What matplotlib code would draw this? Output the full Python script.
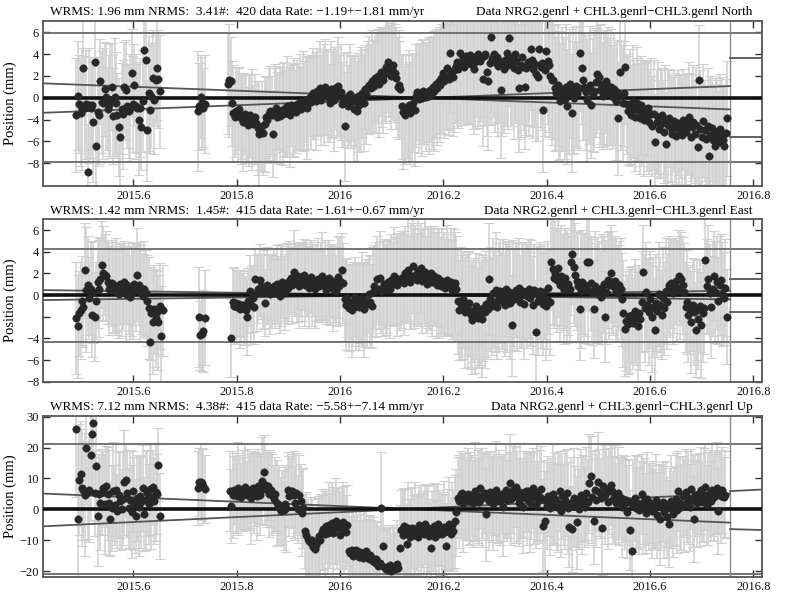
import matplotlib
matplotlib.use("Agg")
import matplotlib.pyplot as plt
import numpy as np

plt.rcParams["font.family"] = ["Liberation Serif", "DejaVu Serif"]

DAYS_PER_YEAR = 365.25

# daily solutions come in three blocks: (first epoch, values)
# ---------------- North ----------------
NORTH_START = [2015.490, 2015.725, 2015.783]
NORTH_A = [
    -1.6, 0.2, -0.6, -1.4, -1.0, 2.7, -0.9, -0.6, -6.8, -0.7,
    -0.9, -0.7, -2.2, 3.3, -4.4, -1.3, -1.6, 1.5, -0.4, -0.5,
    0.8, 0.1, -1.0, -0.7, -0.3, 1.0, -1.7, 0.1, -0.5, -1.6,
    -2.7, -3.6, -1.0, -1.5, 1.0, 0.7, -0.8, -1.2, -0.9, 2.3,
    -0.6, 1.2, -0.8, -0.9, -2.0, -0.9, -2.7, -0.3, 4.4, 3.5,
    -3.0, 0.4, -1.1, 0.2, 1.8, -0.2, 1.6, 2.7, 1.7, 0.6,
]
NORTH_B = [-1.2, -0.8, 0.1, -0.5, -0.9, -0.6]
NORTH_C = [
    1.3, 1.6, 1.5, -0.5, -1.4, -1.8, -1.2, -1.6, -1.0, -1.9,
    -1.7, -2.2, -1.5, -1.9, -2.5, -2.1, -1.6, -2.0, -2.4, -1.8,
    -2.3, -2.8, -3.3, -3.1, -2.6, -3.2, -2.4, -1.8, -2.0, -1.5,
    -1.2, -1.6, -3.3, -1.4, -0.9, -1.8, -1.3, -1.7, -1.1, -1.5,
    -1.0, -1.4, -0.8, -1.2, -1.6, -0.7, -1.1, -0.9, -1.3, -0.6,
    -0.8, -0.4, -1.0, -0.3, -0.7, -0.2, -0.9, -0.5, 0.1, -0.4,
    0.4, 0.0, -0.3, 0.6, 0.2, 0.9, -0.2, 0.5, 0.3, 1.0,
    0.6, 0.1, -0.5, 0.8, 0.3, -0.2, 0.9, 0.4, 1.1, 0.2,
    0.5, -0.6, -0.2, -2.6, 0.1, -0.8, 0.3, -0.4, 0.0, -1.0,
    -0.3, -1.2, 0.2, -0.7, -0.1, 0.4, -0.5, 0.8, 0.3, 1.0,
    1.2, 0.9, 1.5, 1.1, 1.8, 1.4, 2.0, 1.3, 2.4, 1.7,
    1.6, 2.2, 2.8, 3.3, 2.5, 2.0, 2.6, 3.0, 2.3, 1.8,
    1.0, 1.2, 0.8, -0.8, -1.3, -1.6, -1.0, -1.2, -0.7, -1.4,
    -0.9, -0.5, -1.1, 0.2, 0.5, -0.1, 0.4, 0.0, 0.6, 0.3,
    0.1, 0.5, 0.2, 0.7, 0.4, 1.0, 0.6, 1.3, 0.9, 1.5,
    1.2, 1.8, 2.3, 1.5, 2.0, 2.7, 1.7, 4.1, 2.2, 1.9,
    2.5, 2.9, 3.3, 2.6, 4.1, 3.0, 3.6, 2.8, 3.8, 3.2,
    3.5, 3.9, 3.1, 3.7, 2.6, 3.3, 3.8, 4.0, 3.4, 3.6,
    1.7, 3.8, 4.0, 2.4, 1.5, 3.2, 5.6, 3.6, 4.0, 3.3,
    3.7, 2.9, 3.4, 0.7, 3.1, 2.6, 3.5, 4.1, 3.0, 5.5,
    3.6, 3.2, 2.7, 4.0, 3.4, 2.5, 0.9, 3.0, 3.7, 2.8,
    1.0, 2.7, 3.3, 2.9, 4.5, 3.5, 2.6, 3.1, 2.2, 1.9,
    4.5, 2.8, 3.2, -1.1, 2.5, 4.3, 3.4, 3.0, 2.0, 1.6,
    1.6, 0.9, 0.4, 1.2, 0.2, -0.3, 0.8, 0.5, -0.1, 1.0,
    -0.8, 0.4, 1.3, -1.4, 0.7, 0.0, 1.1, 0.3, 0.9, 4.1,
    2.7, 1.6, 1.0, 0.5, -0.2, 0.8, 1.2, -0.7, 0.3, 0.6,
    1.4, 2.2, 1.9, 0.7, 1.3, 0.2, 0.9, 1.5, 0.4, 1.1,
    0.6, 1.0, 0.1, 0.8, -0.3, 0.5, -1.9, 2.4, 0.2, -0.5,
    0.4, 2.8, -0.6, -1.2, -0.8, -1.6, -0.3, -1.0, -1.8, -0.5,
    -1.1, -1.9, -0.7, -1.4, -2.0, -1.2, -1.7, -0.9, -2.2, -1.5,
    -2.6, -1.5, -4.1, -2.2, -1.8, -2.9, -2.4, -1.6, -3.1, -2.0,
    -4.2, -2.5, -1.9, -2.8, -3.3, -2.1, -2.7, -3.5, -2.3, -3.0,
    -2.6, -3.4, -2.0, -2.9, -3.1, -2.4, -1.8, -3.6, -2.7, -2.2,
    -3.3, -2.5, -4.5, 1.6, -2.9, -3.6, -2.1, -3.0, -3.8, -2.6,
    -5.3, -3.4, -2.8, -3.9, -4.4, -3.1, -3.7, -4.1, -2.9, -3.5,
    -3.9, -4.4, -3.2, -1.9,
]
NORTH_SIG_A = [
    5.2, 5.0, 4.5, 4.9, 5.6, 4.3, 4.7, 5.0, 4.4, 5.3,
    4.6, 4.1, 5.5, 4.8, 4.2, 5.0, 4.5, 3.9, 4.7, 5.1,
    4.3, 4.9, 3.8, 4.6, 5.2, 4.0, 4.4, 5.4, 4.7, 3.9,
    4.5, 4.8, 4.2, 5.0, 4.1, 4.6, 3.8, 4.3, 4.9, 4.0,
    4.4, 3.7, 4.8, 4.2, 5.1, 4.5, 3.9, 4.7, 5.5, 4.1,
    4.6, 5.3, 4.0, 4.8, 4.4, 5.0, 4.2, 4.7, 4.5, 5.2,
]
NORTH_SIG_B = [5.5, 4.0, 3.8, 4.2, 3.6, 4.5]
NORTH_SIG_C = [
    4.6, 5.2, 4.1, 3.9, 4.4, 3.6, 4.0, 4.3, 3.8, 4.2,
    3.9, 4.5, 3.7, 4.1, 3.5, 4.2, 3.8, 4.6, 3.6, 4.0,
    3.8, 4.3, 4.8, 3.5, 4.1, 3.9, 4.4, 3.7, 4.0, 4.2,
    4.1, 3.6, 4.0, 4.5, 3.8, 4.2, 3.5, 4.4, 3.9, 4.7,
    4.3, 3.9, 4.6, 4.0, 4.8, 3.7, 4.2, 4.5, 3.8, 4.1,
    4.0, 4.4, 3.8, 4.6, 4.1, 3.9, 4.7, 4.2, 3.6, 4.3,
    4.2, 3.8, 4.5, 4.0, 3.7, 4.3, 4.1, 3.9, 4.6, 4.4,
    3.9, 4.2, 3.6, 4.4, 4.0, 4.7, 3.8, 4.1, 4.5, 3.7,
    4.4, 3.9, 4.3, 5.0, 4.1, 3.8, 4.6, 4.2, 3.9, 4.8,
    4.1, 4.6, 3.9, 4.3, 4.8, 4.0, 4.4, 3.7, 4.5, 4.2,
    4.5, 4.0, 4.7, 4.2, 3.9, 4.6, 4.3, 4.9, 4.1, 4.4,
    4.8, 4.3, 5.1, 4.6, 4.2, 4.9, 4.4, 5.0, 4.5, 4.7,
    4.6, 5.0, 4.4, 4.8, 5.2, 4.5, 4.9, 4.3, 5.1, 4.7,
    4.9, 4.5, 5.2, 4.7, 4.4, 5.0, 4.6, 5.3, 4.8, 4.5,
    5.0, 4.6, 5.4, 4.8, 5.1, 4.7, 5.5, 4.9, 5.2, 4.8,
    5.3, 5.0, 5.6, 5.2, 4.9, 5.7, 5.1, 5.5, 5.0, 5.4,
    5.6, 5.2, 5.9, 5.4, 6.1, 5.5, 5.8, 5.3, 6.0, 5.6,
    5.8, 6.3, 5.5, 6.6, 5.9, 6.2, 5.6, 6.8, 6.0, 5.7,
    6.1, 5.6, 6.5, 5.9, 6.3, 5.7, 6.9, 6.0, 5.8, 6.4,
    5.9, 6.4, 5.7, 6.2, 6.6, 5.8, 6.1, 6.7, 5.9, 6.3,
    6.2, 5.8, 6.5, 6.0, 5.7, 6.3, 5.9, 6.6, 6.1, 5.8,
    5.7, 6.1, 5.9, 6.4, 5.6, 6.0, 6.3, 5.8, 6.2, 5.9,
    5.9, 5.5, 6.2, 5.7, 6.0, 5.4, 5.8, 6.1, 5.6, 5.9,
    5.4, 5.8, 5.2, 5.6, 5.9, 5.3, 5.7, 5.1, 5.5, 5.8,
    5.3, 5.6, 5.0, 5.4, 5.8, 5.2, 5.5, 4.9, 5.7, 5.3,
    5.1, 5.5, 4.9, 5.3, 5.6, 5.0, 5.4, 4.8, 5.2, 5.6,
    5.0, 5.4, 4.8, 5.2, 5.5, 4.9, 5.3, 4.7, 5.1, 5.4,
    4.9, 5.3, 4.7, 5.1, 5.4, 4.8, 5.2, 4.6, 5.0, 5.3,
    4.8, 5.2, 4.6, 5.0, 5.3, 4.7, 5.1, 4.5, 4.9, 5.2,
    4.7, 5.1, 4.5, 4.9, 5.2, 4.6, 5.0, 4.4, 4.8, 5.1,
    4.6, 5.0, 4.4, 4.8, 5.1, 4.5, 4.9, 4.3, 4.7, 5.0,
    4.7, 5.1, 4.5, 4.9, 5.2, 4.6, 5.0, 4.4, 4.8, 5.1,
    4.8, 5.2, 4.6, 5.0, 5.3, 4.7, 5.1, 4.5, 4.9, 5.2,
    4.9, 5.3, 4.7, 5.1, 5.4, 4.8, 5.2, 4.6, 5.0, 5.3,
    5.0, 5.4, 4.8, 5.2, 5.5, 4.9, 5.3, 4.7, 5.1, 5.4,
    5.1, 5.5, 4.9, 5.3,
]

# ---------------- East ----------------
EAST_START = [2015.490, 2015.727, 2015.790]
EAST_A = [
    -2.1, -2.9, -1.7, -1.4, -0.5, -1.1, 2.3, 0.5, 0.9, -0.3,
    0.6, -1.8, 0.3, -2.0, -0.5, 1.2, 0.6, 1.5, 2.8, 2.0,
    1.9, 1.8, 1.2, 0.6, 0.9, 1.1, 0.7, 0.4, 0.8, 0.6,
    0.1, 1.0, 0.5, 0.8, 1.2, 0.1, 0.9, 0.6, -0.2, 0.3,
    0.4, 1.0, 0.7, 1.9, 0.9, 0.3, 0.5, -0.1, 0.6, 0.2,
    -0.5, -1.2, -4.3, -1.7, -2.5, -1.3, -2.1, -1.6, -2.5, -1.0,
    -3.8, -1.4,
]
EAST_B = [-2.0, -3.7, -3.6, -3.3, -2.1]
EAST_C = [
    -4.0, -0.6, -1.0, -0.7, -1.1, -0.8, -1.3, -1.0, -0.9, -1.2,
    -1.4, -2.0, -0.5, 0.4, -0.9, -0.3, -1.1, 1.45, 0.2, 0.6,
    1.4, 0.8, 0.3, 0.6, -0.7, 0.9, 0.5, 0.1, 0.7, 0.4,
    0.8, 0.2, 1.0, 0.5, -0.1, 0.9, 1.2, 0.6, 0.3, 1.1,
    0.7, 1.3, 1.6, 0.9, 2.15, 1.4, 1.1, 1.8, 0.8, 1.5,
    1.2, 1.9, 0.9, 1.6, 1.3, 0.7, 1.7, 1.0, 1.4, 0.6,
    1.1, 1.5, 0.8, 1.3, 1.8, 0.9, 1.4, 0.5, 1.2, 1.6,
    0.9, 1.3, 0.6, 1.0, 0.4, 1.7, 0.8, 1.3, 2.3, 1.1,
    -0.4, -0.9, -0.3, -1.2, -0.6, -1.4, -0.8, -0.2, -1.0, -0.5,
    -1.1, -0.7, -0.3, -0.9, -1.3, -0.5, -0.8, 0.1, -0.6, -1.0,
    0.3, 0.8, 0.5, 1.5, 0.6, 1.6, 0.4, 0.7, 1.0, 0.5,
    0.8, 1.2, 0.6, 1.4, 1.0, 1.8, 1.3, 0.9, 1.5, 1.2,
    1.45, 1.7, 1.1, 2.0, 1.5, 2.3, 1.2, 1.8, 2.7, 1.6,
    1.9, 1.4, 2.2, 1.6, 2.5, 1.3, 1.8, 2.1, 1.0, 1.7,
    1.5, 2.0, 1.2, 1.8, 1.4, 0.9, 1.6, 1.1, 0.8, 1.3,
    1.0, 0.7, 1.4, 0.9, 0.8, 1.2, 0.5, 0.9, 1.1, 0.6,
    -0.5, -1.4, -0.8, -1.1, -0.4, -1.6, -0.9, -1.3, -0.7, -1.8,
    -2.3, -1.5, -1.9, -1.0, -2.1, -1.4, -1.7, -2.2, -1.2, -1.6,
    -0.8, -1.3, 1.5, -0.4, -1.0, 0.2, -0.6, 0.5, -1.1, -0.2,
    0.4, -0.5, 0.1, -0.9, 0.6, -0.3, 0.3, -0.7, -2.8, 0.2,
    -0.4, 0.5, -0.2, 0.7, -0.6, 0.0, 0.4, -0.8, 0.3, -0.1,
    0.6, -0.3, 0.2, -0.9, 0.5, -3.4, 0.1, -0.5, 0.4, -0.2,
    -0.8, 0.3, -1.0, -0.4, 0.7, -0.6, 3.1, 2.4, 1.6, 2.0,
    1.4, 2.5, 0.9, 1.8, 1.2, 0.5, 1.6, 0.8, 1.0, 0.6,
    3.1, 3.75, 2.6, 1.9, 1.3, 0.8, -1.3, 0.4, 1.2, 0.6,
    0.9, 3.1, 0.5, 3.1, 1.1, 0.3, -1.3, 0.8, 0.2, 0.6,
    0.4, -0.2, 0.7, 1.0, -2.0, 0.3, 1.4, 0.9, 2.0, 1.2,
    0.8, 1.3, 0.5, 0.2, 0.9, 0.6, -0.4, -1.7, -3.1, -2.4,
    -2.7, -1.9, -2.3, -1.8, -2.6, -1.5, -2.1, -2.9, -1.7, -2.2,
    -0.6, 2.1, -1.2, 0.3, -0.9, -1.6, -0.4, -2.0, -1.1, -3.2,
    -0.7, -1.5, 0.1, -0.9, -1.8, -0.3, -1.2, 0.4, -0.6, 0.9,
    0.5, 1.1, 0.2, 0.8, 1.3, 0.4, 1.8, 0.7, 1.5, 0.9,
    0.3, -1.1, -0.6, -1.8, -1.3, -2.5, -0.9, -1.6, -3.2, -1.4,
    -2.2, -1.0, -2.8, -1.7, -1.2, 3.2, 0.8, 1.5, 0.2, -1.1,
    0.6, 1.8, 0.3, 1.2, -0.5, 0.9, 1.4, 0.1, -0.3, 0.7,
    -2.0,
]
EAST_SIG_A = [
    5.2, 4.8, 3.9, 4.5, 4.1, 3.7, 4.4, 5.8, 4.6, 3.8,
    4.3, 3.9, 4.7, 4.1, 3.6, 4.2, 4.5, 3.8, 4.0, 4.4,
    3.7, 4.1, 3.9, 4.3, 3.6, 4.0, 4.2, 3.8, 4.5, 3.9,
    4.1, 3.7, 4.3, 4.0, 3.8, 4.4, 3.6, 4.2, 3.9, 4.1,
    4.5, 3.8, 4.0, 4.3, 3.7, 4.6, 4.1, 3.9, 4.4, 4.0,
    4.2, 4.7, 3.9, 4.3, 4.8, 4.1, 4.5, 3.8, 4.4, 4.0,
    4.6, 4.2,
]
EAST_SIG_B = [4.6, 3.2, 3.4, 3.8, 4.4]
EAST_SIG_C = [
    3.6, 3.2, 3.5, 3.0, 3.4, 3.1, 3.6, 3.3, 2.9, 3.4,
    3.2, 3.5, 3.0, 3.3, 3.6, 3.1, 3.4, 2.9, 3.5, 3.2,
    3.3, 3.0, 3.4, 3.6, 3.1, 3.5, 3.2, 3.7, 3.0, 3.4,
    3.5, 3.2, 3.6, 3.1, 3.4, 3.8, 3.3, 3.0, 3.5, 3.7,
    3.4, 3.7, 3.2, 3.5, 3.9, 3.3, 3.6, 3.1, 3.8, 3.4,
    3.6, 3.3, 3.8, 3.5, 3.2, 3.7, 3.4, 3.9, 3.3, 3.6,
    3.5, 3.8, 3.3, 3.6, 4.0, 3.4, 3.7, 3.2, 3.9, 3.5,
    3.7, 3.4, 3.9, 3.5, 3.3, 3.8, 3.6, 4.1, 3.4, 3.7,
    3.8, 4.2, 3.6, 4.0, 3.5, 4.3, 3.9, 3.7, 4.1, 3.6,
    4.0, 3.7, 4.3, 3.9, 4.4, 3.8, 4.1, 3.6, 4.2, 3.9,
    4.1, 3.8, 4.4, 4.0, 3.7, 4.3, 3.9, 4.5, 4.0, 4.2,
    4.3, 4.0, 4.6, 4.2, 3.9, 4.5, 4.1, 4.7, 4.2, 4.4,
    4.5, 4.2, 4.8, 4.4, 4.1, 4.7, 4.3, 4.9, 4.4, 4.6,
    4.6, 4.3, 4.9, 4.5, 4.2, 4.8, 4.4, 5.0, 4.5, 4.7,
    4.7, 4.4, 5.0, 4.6, 4.3, 4.9, 4.5, 5.1, 4.6, 4.8,
    4.8, 4.5, 5.1, 4.7, 4.4, 5.0, 4.6, 5.2, 4.7, 4.9,
    4.9, 4.6, 5.2, 4.8, 4.5, 5.1, 4.7, 5.3, 4.8, 5.0,
    5.0, 4.7, 5.3, 4.9, 4.6, 5.2, 4.8, 5.4, 4.9, 5.1,
    4.9, 4.6, 5.2, 4.8, 4.5, 5.1, 4.7, 5.3, 4.8, 5.0,
    4.8, 4.5, 5.1, 4.7, 4.4, 5.0, 4.6, 5.2, 4.7, 4.9,
    4.7, 4.4, 5.0, 4.6, 4.3, 4.9, 4.5, 5.1, 4.6, 4.8,
    4.6, 4.3, 4.9, 4.5, 4.2, 4.8, 4.4, 5.0, 4.5, 4.7,
    4.7, 4.4, 5.0, 4.6, 4.3, 4.9, 4.5, 5.1, 4.6, 4.8,
    4.8, 4.5, 5.1, 4.7, 4.4, 5.0, 4.6, 5.2, 4.7, 4.9,
    4.9, 4.6, 5.2, 4.8, 4.5, 5.1, 4.7, 5.3, 4.8, 5.0,
    4.7, 4.4, 5.0, 4.6, 4.3, 4.9, 4.5, 5.1, 4.6, 4.8,
    4.6, 4.3, 4.9, 4.5, 4.2, 4.8, 4.4, 5.0, 4.5, 4.7,
    4.5, 4.2, 4.8, 4.4, 4.1, 4.7, 4.3, 4.9, 4.4, 4.6,
    4.6, 4.3, 4.9, 4.5, 4.2, 4.8, 4.4, 5.0, 4.5, 4.7,
    4.7, 4.4, 5.0, 4.6, 4.3, 4.9, 4.5, 5.1, 4.6, 4.8,
    4.5, 4.2, 4.8, 4.4, 4.1, 4.7, 4.3, 4.9, 4.4, 4.6,
    4.4, 4.1, 4.7, 4.3, 4.0, 4.6, 4.2, 4.8, 4.3, 4.5,
    4.5, 4.2, 4.8, 4.4, 4.1, 4.7, 4.3, 4.9, 4.4, 4.6,
    4.6, 4.3, 4.9, 4.5, 4.2, 4.8, 4.4, 5.0, 4.5, 4.7,
    4.4, 4.1, 4.7, 4.3, 4.0, 4.6, 4.2, 4.8, 4.3, 4.5,
    4.4,
]

# ---------------- Up ----------------
UP_START = [2015.490, 2015.725, 2015.787]
UP_A = [
    25.9, -3.0, 9.6, 11.5, 7.0, 6.2, 4.8, 19.8, 5.5, 6.4,
    17.6, 24.3, 27.8, 5.3, 14.1, -2.3, 5.0, 1.9, 5.6, 6.8,
    1.6, 7.4, 5.1, 2.2, -3.0, 0.4, 5.9, 1.3, 6.3, -0.6,
    4.6, 2.8, 0.2, 3.5, 8.7, 9.5, 5.2, 0.5, 3.1, -0.8,
    5.8, 2.0, -2.1, 3.6, 0.9, 4.4, 2.5, 6.9, -1.5, 3.0,
    5.3, 1.8, 6.6, 4.1, 7.2, 2.7, 5.6, 4.9, 14.5, -2.2,
]
UP_B = [7.0, 8.7, 9.0, 8.5, 7.5, 6.7]
UP_C = [
    5.9, 1.1, 4.8, 6.3, 5.2, 4.4, 6.8, 5.5, 3.9, 6.1,
    5.0, 7.2, 4.6, 6.4, 5.8, 3.8, 7.0, 5.3, 6.6, 4.2,
    7.5, 4.8, 6.1, 9.3, 12.1, 8.0, 6.2, 7.4, 5.1, 6.4,
    4.8, 3.2, 5.0, 2.1, 0.6, 1.4, -0.6, 0.8, -0.2, 1.7,
    0.3, 6.4, 4.3, 5.5, 6.0, 4.8, 2.1, 5.2, 0.0, 4.6,
    2.7, -1.1, 0.5, -7.0, -8.4, -9.5, -10.2, -11.0, -9.8, -12.3,
    -12.8, -11.5, -10.4, -8.6, -9.9, -7.2, -6.5, -8.0, -5.4, -7.6,
    -5.0, -6.9, -4.3, -7.8, -5.6, -3.8, -6.2, -4.7, -8.3, -5.9,
    -4.1, -6.5, -7.4, -5.2, -13.6, -14.2, -13.0, -15.1, -14.4, -13.3,
    -14.8, -15.5, -13.8, -14.6, -15.9, -14.1, -13.5, -15.2, -16.1, -14.7,
    -15.4, -16.6, -17.2, -16.0, -17.8, -18.3, -17.5, 0.5, -12.0, -18.7,
    -19.2, -18.5, -19.6, -18.0, -19.9, -19.1, -18.8, -19.4, -17.6, -18.9,
    -12.5, -6.8, -8.2, -5.4, -7.5, -11.2, -6.1, -8.8, -7.0, -5.9,
    -8.4, -6.3, -7.7, -9.1, -5.0, -7.2, -6.6, -8.0, -4.8, -7.4,
    -6.0, -8.6, -12.5, -7.1, -5.5, -9.0, -6.8, -4.9, -7.9, -6.4,
    -8.1, -5.7, -7.3, -11.8, -6.5, -4.6, -8.0, -5.2, -6.9, -3.9,
    -1.0, 3.8, 2.6, 4.9, 5.3, 2.2, 4.1, 3.3, 5.0, 2.8,
    3.6, 4.5, 1.9, 5.9, 3.0, 4.2, 2.5, 6.8, 3.8, 4.6,
    5.2, -1.6, 4.0, 2.8, 5.5, 3.4, 1.7, 4.8, 6.1, 3.1,
    4.3, 2.6, 5.0, 0.9, 3.8, 6.2, 2.9, 4.7, 8.5, 3.5,
    6.4, 5.1, 7.3, 4.0, 2.2, 5.6, 3.7, 0.8, 4.9, 6.0,
    3.3, 5.8, 2.1, 4.5, 7.0, 3.9, 1.5, 5.2, 2.8, 4.1,
    6.5, -5.3, 3.0, -3.7, 1.2, 4.4, 0.3, 2.6, 5.1, 1.8,
    3.5, 0.9, 2.2, 6.0, -0.5, 4.3, 1.6, 3.1, 5.4, 0.4,
    -5.7, 2.0, -6.4, 3.7, 1.1, -4.2, 2.8, 0.2, 4.6, 1.5,
    3.3, 0.8, 5.2, 2.4, 8.5, 10.7, 4.0, -3.7, 6.2, 2.9,
    9.0, 5.5, 3.6, -6.1, 7.4, 4.8, 6.5, 2.3, 5.9, 7.9,
    6.0, 3.2, 4.7, 1.9, 5.3, 2.6, 4.0, 0.7, 3.5, 2.1,
    3.0, -0.8, 2.4, -6.7, -13.4, 1.3, 3.7, 0.5, 2.2, -0.3,
    1.8, 4.9, 0.4, 2.7, -1.2, 3.4, 1.0, 2.0, -0.6, 1.5,
    0.2, 2.9, -1.9, 1.4, -3.0, 0.8, 2.3, -0.9, 1.7, -2.4,
    -4.6, 0.5, 2.6, -1.5, 1.1, 3.3, -0.2, 5.9, 2.0, 0.7,
    4.2, 1.3, 5.6, 2.5, 3.8, 0.6, 6.6, 2.9, -3.2, 4.5,
    1.9, 5.0, 3.2, 6.1, 2.4, 4.7, 7.2, 1.4, 3.6, 5.3,
    2.8, 6.4, 4.0, 5.5, 6.9, -0.5, 5.8, 4.2, 6.2, 3.9,
    4.8,
]
UP_SIG_A = [
    22, 24, 18, 17, 19, 16, 20, 18, 15, 17,
    21, 19, 23, 14, 18, 16, 13, 15, 14, 12,
    16, 13, 15, 17, 12, 14, 16, 13, 15, 12,
    14, 16, 13, 15, 17, 12, 14, 13, 16, 15,
    13, 15, 12, 14, 16, 13, 15, 14, 12, 16,
    14, 13, 15, 17, 12, 14, 16, 13, 11.8, 14,
]
UP_SIG_B = [12, 11, 12.5, 11.5, 12, 11]
UP_SIG_C = [
    13, 12, 14, 11, 13, 12, 15, 12, 11, 13,
    12, 14, 11, 13, 12, 15, 11, 13, 12, 14,
    12, 13, 11, 14, 12, 13, 12, 11, 14, 12,
    13, 11, 12, 14, 12, 13, 11, 12, 13, 12,
    14, 12, 13, 11, 12, 14, 12, 13, 11, 13,
    12, 14, 13, 12, 14, 13, 12, 15, 13, 14,
    13, 12, 14, 13, 15, 12, 13, 14, 12, 13,
    14, 12, 13, 15, 12, 14, 13, 12, 14, 13,
    13, 14, 12, 13, 14, 12, 13, 15, 12, 14,
    13, 12, 14, 13, 12, 15, 13, 12, 14, 13,
    12, 14, 13, 12, 14, 13, 12, 18, 13, 12,
    13, 12, 14, 13, 12, 14, 13, 12, 14, 13,
    14, 13, 15, 12, 14, 13, 15, 12, 14, 13,
    13, 15, 12, 14, 13, 15, 12, 14, 13, 15,
    14, 12, 15, 13, 14, 12, 15, 13, 14, 12,
    13, 15, 12, 14, 13, 15, 12, 14, 13, 15,
    14, 13, 15, 14, 13, 16, 14, 13, 15, 14,
    15, 13, 14, 16, 13, 15, 14, 13, 16, 14,
    13, 15, 14, 16, 13, 14, 15, 13, 16, 14,
    15, 14, 13, 16, 14, 15, 13, 14, 16, 15,
    14, 16, 13, 15, 14, 16, 13, 15, 14, 13,
    15, 13, 16, 14, 13, 15, 14, 16, 13, 15,
    14, 15, 13, 16, 14, 13, 15, 14, 16, 13,
    15, 14, 16, 13, 15, 14, 13, 16, 14, 15,
    13, 15, 14, 16, 13, 15, 14, 13, 15, 16,
    14, 13, 15, 14, 16, 13, 15, 14, 13, 15,
    16, 14, 13, 15, 14, 16, 13, 15, 14, 13,
    15, 14, 16, 13, 15, 14, 13, 16, 14, 15,
    13, 15, 14, 13, 12, 15, 14, 13, 15, 14,
    14, 13, 15, 14, 13, 15, 14, 13, 15, 14,
    13, 15, 14, 13, 15, 14, 13, 15, 14, 13,
    14, 13, 15, 14, 13, 15, 14, 13, 15, 14,
    13, 15, 14, 13, 15, 14, 13, 15, 14, 13,
    14, 13, 15, 14, 13, 15, 14, 13, 15, 14,
    13, 15, 14, 13, 15, 14, 13, 15, 14, 13,
    14,
]

# reference lines: ± sigma rate envelope over the fit span, its extension
# past the last epoch, and the +/- bounds
FIT_SPAN = [2015.426, 2016.755]
EXTRA_SPAN = [2016.755, 2016.816]
NORTH_ENV = ([1.32, -1.07], [-1.38, 1.07])
NORTH_EXT = ([3.6, 3.6], [-3.6, -3.6])
NORTH_BOUNDS = [5.9, -5.9]
EAST_ENV = ([0.46, -0.40], [-0.46, 0.40])
EAST_EXT = ([1.45, 1.45], [-1.54, -1.54])
EAST_BOUNDS = [4.3, -4.3]
UP_ENV = ([5.1, -4.3], [-5.5, 5.1])
UP_EXT = ([5.9, 6.4], [-6.4, -6.7])
UP_BOUNDS = [21.1, -20.9]

XTICKS = [2015.6, 2015.8, 2016.0, 2016.2, 2016.4, 2016.6, 2016.8]
XTICK_LABELS = ["2015.6", "2015.8", "2016", "2016.2", "2016.4", "2016.6", "2016.8"]

NORTH_YTICKS = [6, 4, 2, 0, -2, -4, -6]
NORTH_YLABELS = ["6", "4", "2", "0", "\u22124", "\u22126", "\u22128"]
EAST_YTICKS = [6, 4, 2, 0, -2, -4, -6, -8]
EAST_YLABELS = ["6", "4", "2", "0", "", "\u22124", "\u22126", "\u22128"]
UP_YTICKS = [30, 20, 10, 0, -10, -20]
UP_YLABELS = ["30", "20", "10", "0", "\u221210", "\u221220"]

SITE = "Data NRG2.genrl + CHL3.genrl\u2212CHL3.genrl"
NORTH_STATS = "WRMS: 1.96 mm NRMS:  3.41#:  420 data Rate: \u22121.19+\u22121.81 mm/yr"
EAST_STATS = "WRMS: 1.42 mm NRMS:  1.45#:  415 data Rate: \u22121.61+\u22120.67 mm/yr"
UP_STATS = "WRMS: 7.12 mm NRMS:  4.38#:  415 data Rate: \u22125.58+\u22127.14 mm/yr"


def expand(starts, blocks):
    t = []
    for t0, vals in zip(starts, blocks):
        t.append(t0 + np.arange(len(vals)) / DAYS_PER_YEAR)
    return np.concatenate(t), np.concatenate([np.asarray(b, float) for b in blocks])


def draw(ax, starts, vals, sigs, env, ext, bounds, ylim, yticks, ylabels, stats, comp):
    t, y = expand(starts, vals)
    _, s = expand(starts, sigs)
    assert len(y) == len(s), (len(y), len(s))

    ax.errorbar(t, y, yerr=s, fmt="none", ecolor="#d0d0d0", elinewidth=1.1,
                capsize=3.4, capthick=0.8, zorder=1)
    for b in bounds:
        ax.axhline(b, color="#6a6a6a", lw=1.3, zorder=2)
    for line in env:
        ax.plot(FIT_SPAN, line, color="#555555", lw=1.3, zorder=3)
    for line in ext:
        ax.plot(EXTRA_SPAN, line, color="#555555", lw=1.3, zorder=3)
    ax.axvline(FIT_SPAN[1], color="#8a8a8a", lw=1.0, zorder=2)
    ax.axhline(0, color="#111111", lw=2.6, zorder=3)
    ax.plot(t, y, "o", ms=5.4, color="#272727", mec="#272727", mew=0.3, zorder=4)

    ax.set_xlim(2015.426, 2016.816)
    ax.set_ylim(*ylim)
    ax.set_xticks(XTICKS)
    ax.set_xticklabels(XTICK_LABELS)
    ax.set_yticks(yticks)
    ax.set_yticklabels(ylabels)
    ax.tick_params(direction="in", top=True, right=True, length=5, width=1.0,
                   labelsize=9, pad=3, colors="#333333", labelcolor="#111111")
    for sp in ax.spines.values():
        sp.set_color("#555555")
        sp.set_linewidth(1.3)
    ax.set_ylabel("Position (mm)", fontsize=10.5)
    ax.yaxis.set_label_coords(-0.037, 0.5)
    ax.annotate(stats, xy=(0.01, 1), xycoords="axes fraction", xytext=(0, 4),
                textcoords="offset points", va="baseline", ha="left", fontsize=9.5)
    ax.annotate(f"{SITE} {comp}", xy=(0.987, 1), xycoords="axes fraction", xytext=(0, 4),
                textcoords="offset points", va="baseline", ha="right", fontsize=9.5)


fig = plt.figure(figsize=(7.89, 6.0), dpi=100)
W, H = 789.0, 600.0
left, right = 43.3, 761.7
rows = [(21.0, 185.7), (219.3, 381.7), (415.7, 576.7)]
axes = [fig.add_axes([left / W, 1 - b / H, (right - left) / W, (b - t) / H]) for t, b in rows]

draw(axes[0], NORTH_START, [NORTH_A, NORTH_B, NORTH_C],
     [NORTH_SIG_A, NORTH_SIG_B, NORTH_SIG_C], NORTH_ENV, NORTH_EXT, NORTH_BOUNDS,
     (-8.07, 7.04), NORTH_YTICKS, NORTH_YLABELS, NORTH_STATS, "North")
draw(axes[1], EAST_START, [EAST_A, EAST_B, EAST_C],
     [EAST_SIG_A, EAST_SIG_B, EAST_SIG_C], EAST_ENV, EAST_EXT, EAST_BOUNDS,
     (-8.0, 7.0), EAST_YTICKS, EAST_YLABELS, EAST_STATS, "East")
draw(axes[2], UP_START, [UP_A, UP_B, UP_C],
     [UP_SIG_A, UP_SIG_B, UP_SIG_C], UP_ENV, UP_EXT, UP_BOUNDS,
     (-21.8, 30.3), UP_YTICKS, UP_YLABELS, UP_STATS, "Up")

fig.savefig("out.png", dpi=100)
